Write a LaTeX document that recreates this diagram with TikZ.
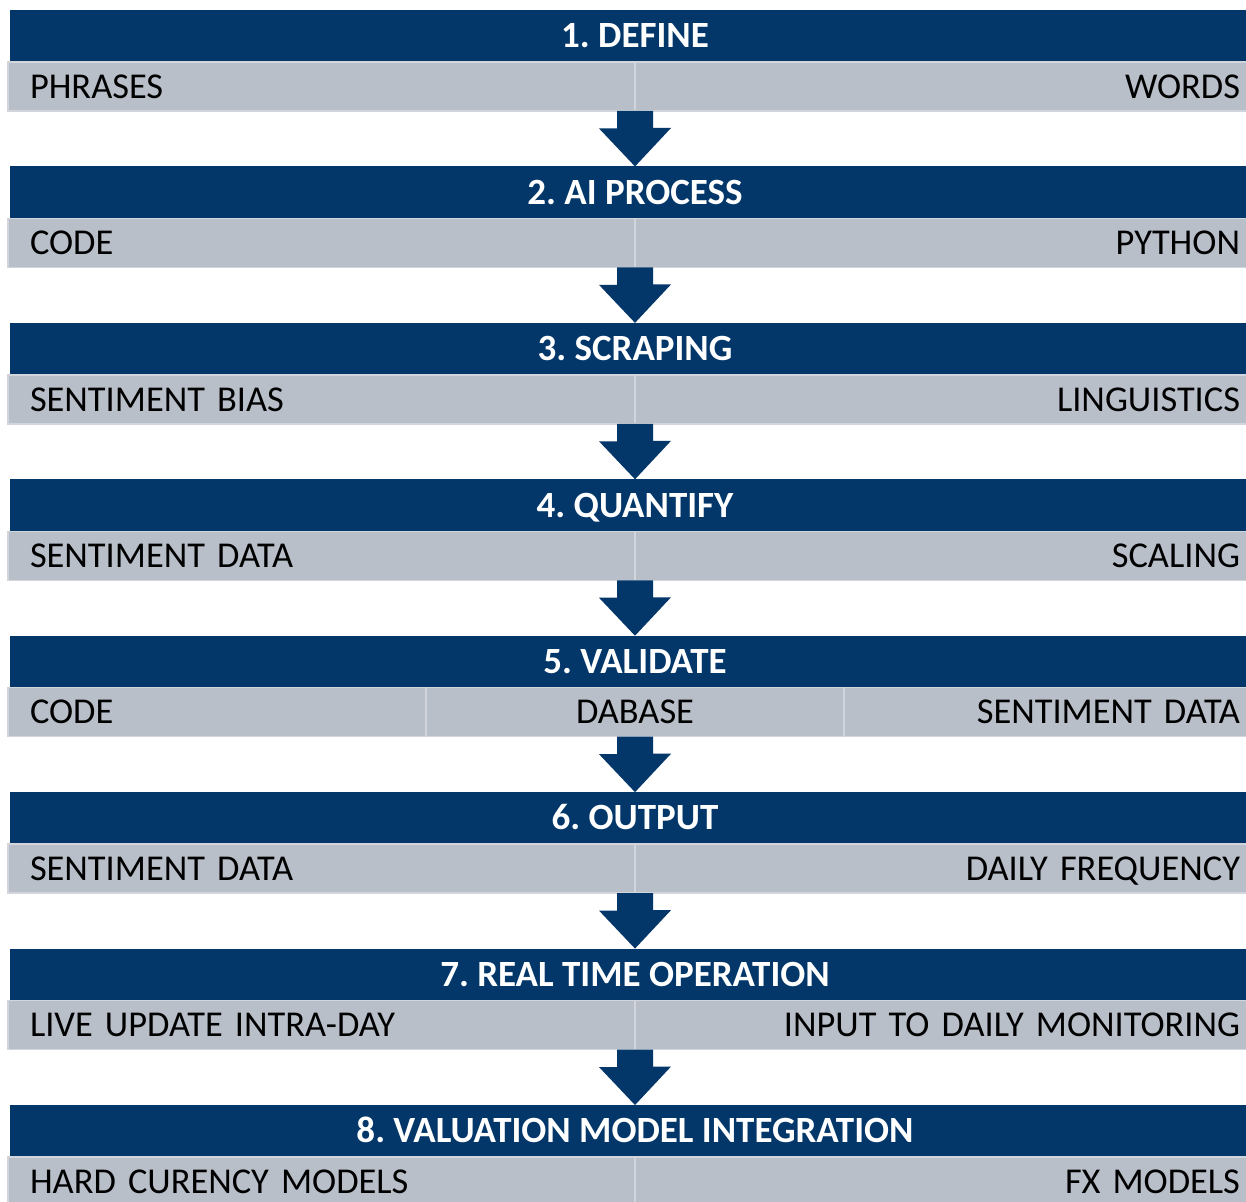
\documentclass[tikz,border=0pt]{standalone}
\usepackage{fontspec}
\setmainfont{Carlito}
\usetikzlibrary{positioning}

\definecolor{navy}{HTML}{03376A}
\definecolor{cellgray}{HTML}{B8BFC9}
\definecolor{cellline}{HTML}{D2D6DC}

% block arrow from the row above to the next header
\newcommand{\downarrowfrom}[2]{%
  \fill[navy] (#1) ++(-18pt,0) -- ++(36pt,0) -- ++(0,-17pt) -- ++(18pt,0)
    -- (#2.north) -- ++(-36pt,38pt) -- ++(18pt,0) -- cycle;}

\begin{document}
\frenchspacing
\begin{tikzpicture}[x=1pt,y=1pt,
  head node/.style={rectangle,fill=navy,text=white,inner sep=0pt,outer sep=0pt,
    minimum width=1250pt,minimum height=52pt,text height=23.6pt,text depth=0pt,
    font=\bfseries\fontsize{37}{37}\selectfont},
  cell node/.style={rectangle,fill=cellgray,draw=cellline,line width=1.5pt,
    inner xsep=22pt,inner ysep=0pt,outer sep=0pt,minimum height=49pt,
    text height=23.5pt,text depth=0pt,font=\fontsize{36.4}{36.4}\selectfont},
  left cell/.style={cell node,text width=583pt,align=left},
  right cell/.style={cell node,text width=583pt,align=right},
  third cell/.style={cell node,text width=374pt}]

  \clip (0,0) rectangle (1246,-1201);
  \fill[white] (0,0) rectangle (1246,-1201);

  \node[head node] (h1) at (635,-36) {1. DEFINE};
  \node[head node] (h2) [below=104.43pt of h1] {2. AI PROCESS};
  \node[head node] (h3) [below=104.43pt of h2] {3. SCRAPING};
  \node[head node] (h4) [below=104.43pt of h3] {4. QUANTIFY};
  \node[head node] (h5) [below=104.43pt of h4] {5. VALIDATE};
  \node[head node] (h6) [below=104.43pt of h5] {6. OUTPUT};
  \node[head node] (h7) [below=104.43pt of h6] {7. REAL TIME OPERATION};
  \node[head node] (h8) [below=104.43pt of h7] {8. VALUATION MODEL INTEGRATION};

  \node[left cell]  (l1) [below left=0pt and 0pt of h1.south] {PHRASES};
  \node[right cell] (r1) [below right=0pt and 0pt of h1.south] {WORDS};
  \node[left cell]  (l2) [below left=0pt and 0pt of h2.south] {CODE};
  \node[right cell] (r2) [below right=0pt and 0pt of h2.south] {PYTHON};
  \node[left cell]  (l3) [below left=0pt and 0pt of h3.south] {SENTIMENT BIAS};
  \node[right cell] (r3) [below right=0pt and 0pt of h3.south] {LINGUISTICS};
  \node[left cell]  (l4) [below left=0pt and 0pt of h4.south] {SENTIMENT DATA};
  \node[right cell] (r4) [below right=0pt and 0pt of h4.south] {SCALING};
  \node[third cell,align=center] (m5) [below=0pt of h5.south] {DABASE};
  \node[third cell,align=left]   (l5) [left=0pt of m5] {CODE};
  \node[third cell,align=right]  (r5) [right=0pt of m5] {SENTIMENT DATA};
  \node[left cell]  (l6) [below left=0pt and 0pt of h6.south] {SENTIMENT DATA};
  \node[right cell] (r6) [below right=0pt and 0pt of h6.south] {DAILY FREQUENCY};
  \node[left cell]  (l7) [below left=0pt and 0pt of h7.south] {LIVE UPDATE INTRA-DAY};
  \node[right cell] (r7) [below right=0pt and 0pt of h7.south] {INPUT TO DAILY MONITORING};
  \node[left cell]  (l8) [below left=0pt and 0pt of h8.south] {HARD CURENCY MODELS};
  \node[right cell] (r8) [below right=0pt and 0pt of h8.south] {FX MODELS};

  \downarrowfrom{l1.south east}{h2}
  \downarrowfrom{l2.south east}{h3}
  \downarrowfrom{l3.south east}{h4}
  \downarrowfrom{l4.south east}{h5}
  \downarrowfrom{m5.south}{h6}
  \downarrowfrom{l6.south east}{h7}
  \downarrowfrom{l7.south east}{h8}
\end{tikzpicture}
\end{document}
